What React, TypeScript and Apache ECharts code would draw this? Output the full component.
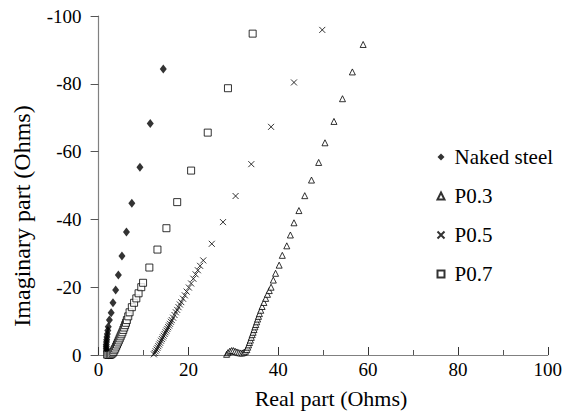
import React, { useEffect, useRef } from "react";
import * as echarts from "echarts";

const xTicks = [0, 20, 40, 60, 80, 100];
const yTicks = [-100, -80, -60, -40, -20, 0];

const nakedSteel: number[][] = [
  [14.4, -84.4], [11.5, -68.3], [9.2, -55.4], [7.4, -44.8], [6.2, -36.3], [5.2, -29.2],
  [4.4, -23.6], [3.8, -19.2], [3.2, -15.4], [2.8, -12.5], [2.4, -10.3], [2.15, -8.3],
  [2.05, -7.2], [1.95, -6.2], [1.85, -5.3], [1.8, -4.5], [1.75, -3.8], [1.7, -3.1],
  [1.7, -2.5], [1.7, -1.9], [1.75, -1.4], [1.8, -1.0], [1.9, -0.6], [2.0, -0.3], [2.2, -0.1],
];

const p03: number[][] = [
  [28.5, -0.2], [28.8, -0.7], [29.2, -1.1], [29.6, -1.3], [30.0, -1.3], [30.4, -1.1],
  [30.8, -0.9], [31.2, -0.7], [31.6, -0.6], [32.0, -0.6], [32.4, -0.8], [32.7, -1.1],
  [33.0, -1.6], [33.2, -2.3], [33.4, -3.0], [33.6, -3.7], [33.8, -4.4], [34.0, -5.2],
  [34.2, -6.0], [34.4, -6.7], [34.6, -7.5], [34.8, -8.3], [35.0, -9.0], [35.2, -9.8],
  [35.4, -10.6], [35.6, -11.4], [35.8, -12.2], [36.1, -13.2], [36.4, -14.3], [36.8, -15.5],
  [37.2, -16.7], [37.6, -17.9], [38.0, -19.0], [38.4, -20.0], [38.9, -22.1], [39.4, -24.1],
  [40.2, -26.5], [40.9, -29.4], [41.9, -32.2], [42.7, -35.4], [43.5, -39.0], [44.6, -42.6],
  [45.9, -47.0], [47.4, -51.6], [49.0, -56.8], [50.4, -62.6], [52.4, -68.9], [54.3, -75.6],
  [56.5, -83.5], [58.9, -91.6],
];

const p05: number[][] = [
  [12.3, -0.2], [12.5, -0.6], [12.7, -1.1], [12.9, -1.6], [13.1, -2.1], [13.3, -2.6],
  [13.5, -3.1], [13.7, -3.6], [13.9, -4.2], [14.1, -4.7], [14.3, -5.2], [14.5, -5.7],
  [14.7, -6.2], [14.9, -6.7], [15.1, -7.2], [15.3, -7.7], [15.5, -8.2], [15.7, -8.7],
  [15.9, -9.2], [16.1, -9.8], [16.3, -10.3], [16.6, -11.0], [16.9, -11.8], [17.2, -12.6],
  [17.5, -13.3], [17.8, -14.1], [18.1, -14.9], [18.4, -15.6], [18.8, -16.6], [19.2, -17.6],
  [19.6, -18.7], [20.1, -19.9], [20.6, -21.1], [21.1, -22.5], [21.6, -23.8], [22.1, -25.0],
  [22.6, -26.3], [23.3, -27.9], [25.2, -32.8], [27.7, -39.2], [30.5, -46.9], [34.0, -56.3],
  [38.4, -67.3], [43.5, -80.4], [49.8, -95.9],
];

const p07: number[][] = [
  [1.9, -0.1], [2.2, 0], [2.5, 0], [2.8, -0.2], [3.1, -0.5], [3.3, -0.9], [3.5, -1.4],
  [3.7, -1.9], [3.9, -2.5], [4.1, -3.1], [4.3, -3.7], [4.5, -4.3], [4.7, -4.9], [4.9, -5.5],
  [5.1, -6.1], [5.3, -6.7], [5.5, -7.4], [5.7, -8.1], [5.9, -8.8], [6.1, -9.5], [6.3, -10.3],
  [6.6, -11.4], [6.9, -12.6], [7.4, -14.1], [7.9, -15.4], [8.4, -16.7], [8.9, -18.2],
  [9.5, -20.0], [9.9, -21.3], [11.3, -25.8], [13.1, -31.1], [15.1, -37.4], [17.5, -45.1],
  [20.6, -54.4], [24.3, -65.6], [28.8, -78.7], [34.3, -94.8],
];

const seriesNames = ["Naked steel", "P0.3", "P0.5", "P0.7"];
const xTitle = "Real part (Ohms)";
const yTitle = "Imaginary part (Ohms)";

const FONT = "Liberation Serif";
const CROSS = "path://M0,0L10,10M10,0L0,10";

export default function App() {
  const ref = useRef<HTMLDivElement>(null);
  useEffect(() => {
    document.body.style.margin = "0";
    if (!ref.current) return;
    const chart = echarts.init(ref.current, null, { renderer: "svg" });
    const hollow = { color: "#fff", borderColor: "#000", borderWidth: 1 };
    chart.setOption({
      animation: false,
      backgroundColor: "#fff",
      textStyle: { fontFamily: FONT },
      grid: { left: 98.6, right: 13, top: 16, bottom: 64 },
      xAxis: {
        type: "value",
        min: xTicks[0],
        max: xTicks[xTicks.length - 1],
        interval: 20,
        axisLine: { onZero: false, lineStyle: { color: "#808080", width: 1.2 } },
        axisTick: { inside: true, length: 8, lineStyle: { color: "#333" } },
        minorTick: { show: true, splitNumber: 2, length: 5, lineStyle: { color: "#555" } },
        splitLine: { show: false },
        axisLabel: { color: "#000", fontSize: 19, fontFamily: FONT, margin: 5 },
      },
      yAxis: {
        type: "value",
        min: yTicks[0],
        max: yTicks[yTicks.length - 1],
        interval: 20,
        inverse: true,
        axisLine: { show: true, lineStyle: { color: "#808080", width: 1.2 } },
        axisTick: { show: true, inside: false, length: 8, lineStyle: { color: "#555" } },
        splitLine: { show: false },
        axisLabel: { color: "#000", fontSize: 19, fontFamily: FONT, margin: 17 },
      },
      legend: {
        orient: "vertical",
        left: 430,
        top: 141.5,
        itemWidth: 7,
        itemHeight: 7,
        itemGap: 18,
        textStyle: { fontSize: 21, fontFamily: FONT, color: "#000", lineHeight: 21, padding: [0, 0, 0, 5] },
        data: seriesNames,
      },
      graphic: [
        {
          type: "text",
          x: 331,
          y: 398,
          style: { text: xTitle, fontSize: 22, fontFamily: FONT, fill: "#000", align: "center", verticalAlign: "middle" },
        },
        {
          type: "text",
          x: 22,
          y: 216,
          rotation: Math.PI / 2,
          style: { text: yTitle, fontSize: 24, fontFamily: FONT, fill: "#000", align: "center", verticalAlign: "middle" },
        },
      ],
      series: [
        {
          name: seriesNames[0],
          type: "scatter",
          data: nakedSteel,
          symbol: "diamond",
          symbolSize: [7, 9],
          itemStyle: { color: "#000" },
        },
        {
          name: seriesNames[1],
          type: "scatter",
          data: p03,
          symbol: "triangle",
          symbolSize: 6,
          itemStyle: hollow,
        },
        {
          name: seriesNames[2],
          type: "scatter",
          data: p05,
          symbol: CROSS,
          symbolSize: 6,
          itemStyle: { color: "none", borderColor: "#000", borderWidth: 1 },
        },
        {
          name: seriesNames[3],
          type: "scatter",
          data: p07,
          symbol: "rect",
          symbolSize: 7,
          itemStyle: hollow,
        },
      ],
    });
    return () => chart.dispose();
  }, []);
  return <div ref={ref} style={{ width: 565, height: 419 }} />;
}
